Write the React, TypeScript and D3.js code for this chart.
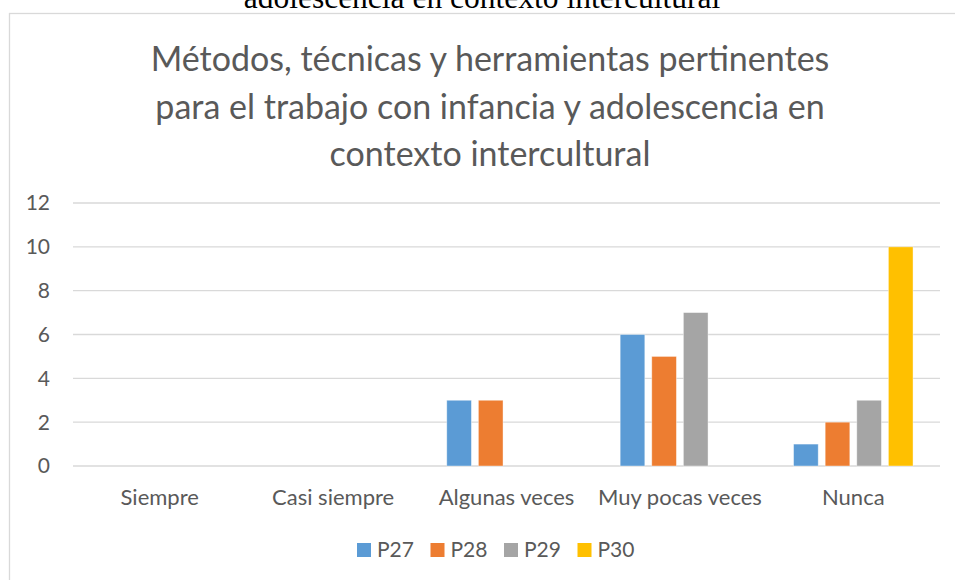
import React from 'react';
import * as d3 from 'd3';

const categories = ['Siempre', 'Casi siempre', 'Algunas veces', 'Muy pocas veces', 'Nunca'];
const seriesNames = ['P27', 'P28', 'P29', 'P30'];
const p27 = [0, 0, 3, 6, 1];
const p28 = [0, 0, 3, 5, 2];
const p29 = [0, 0, 0, 7, 3];
const p30 = [0, 0, 0, 0, 10];
const yTicks = [0, 2, 4, 6, 8, 10, 12];
const titleLines = [
  'Métodos, técnicas y herramientas pertinentes',
  'para el trabajo con infancia y adolescencia en',
  'contexto intercultural',
];
const captionTail = 'adolescencia en contexto intercultural';

const colors = ['#5B9BD5', '#ED7D31', '#A5A5A5', '#FFC000'];
const seriesValues = [p27, p28, p29, p30];

const W = 955;
const H = 580;
const FONT = 'Lato, "Open Sans", sans-serif';

const App = () => {
  const plot = { left: 73, right: 940, top: 203, bottom: 466 };

  const x0 = d3.scaleBand<string>()
    .domain(categories)
    .range([plot.left, plot.right])
    .paddingInner(0.311)
    .paddingOuter(0.1555);

  const x1 = d3.scaleBand<string>()
    .domain(seriesNames)
    .range([0, x0.bandwidth()])
    .paddingInner(0.22);

  const y = d3.scaleLinear().domain([0, 12]).range([plot.bottom, plot.top]);

  const legendStep = 73.5;
  const legendStart = 494 - (legendStep * seriesNames.length - 20) / 2;

  return (
    <svg width={W} height={H} style={{ position: 'absolute', left: 0, top: 0, background: '#fff' }}>
      {/* tail of the document caption above the chart, cut off by the top edge */}
      <text x={482} y={8} textAnchor="middle" fontFamily='"Liberation Serif", "Times New Roman", serif' fontSize={31.5} fill="#000">
        {captionTail}
      </text>

      <rect x={9.5} y={13.5} width={980} height={620} fill="#fff" stroke="#d9d9d9" strokeWidth={1.3} />

      <g fontFamily={FONT} fill="#595959" textAnchor="middle" fontSize={34}>
        {titleLines.map((line, i) => (
          <text key={i} x={490} y={71 + i * 47.5}>{line}</text>
        ))}
      </g>

      <g>
        {yTicks.map((t) => (
          <g key={t}>
            <line x1={plot.left} x2={plot.right} y1={y(t)} y2={y(t)} stroke="#d9d9d9" strokeWidth={1.4} />
            <text x={50} y={y(t)} dy="0.35em" textAnchor="end" fontFamily={FONT} fontSize={21} fill="#595959">
              {t}
            </text>
          </g>
        ))}
      </g>

      <g>
        {categories.map((c, ci) => (
          <g key={c} transform={`translate(${x0(c)},0)`}>
            {seriesNames.map((s, si) => {
              const v = seriesValues[si][ci];
              if (!v) return null;
              return (
                <rect
                  key={s}
                  x={x1(s)}
                  y={y(v)}
                  width={x1.bandwidth()}
                  height={y(0) - y(v)}
                  fill={colors[si]}
                  stroke="#fff"
                  strokeOpacity={0.5}
                  strokeWidth={0.8}
                />
              );
            })}
          </g>
        ))}
      </g>

      <g fontFamily={FONT} fontSize={22} fill="#595959" textAnchor="middle">
        {categories.map((c) => (
          <text key={c} x={(x0(c) ?? 0) + x0.bandwidth() / 2} y={505}>{c}</text>
        ))}
      </g>

      <g fontFamily={FONT} fontSize={21} fill="#595959">
        {seriesNames.map((s, i) => (
          <g key={s} transform={`translate(${legendStart + i * legendStep},543)`}>
            <rect width={14} height={14} fill={colors[i]} />
            <text x={20} y={7} dy="0.35em">{s}</text>
          </g>
        ))}
      </g>
    </svg>
  );
};

export default App;
